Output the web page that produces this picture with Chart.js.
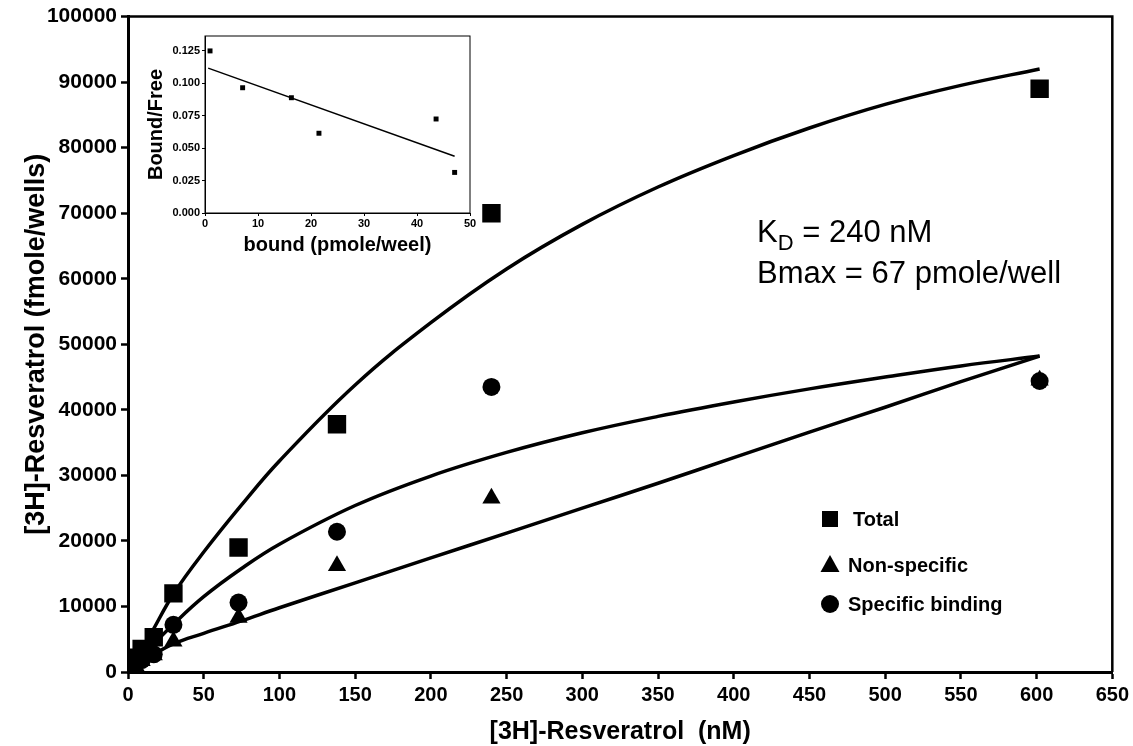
<!DOCTYPE html>
<html>
<head>
<meta charset="utf-8">
<script src="https://cdn.jsdelivr.net/npm/chart.js@4.4.0/dist/chart.umd.min.js"></script>
<style>
    body { margin: 0; background: #fff; }
    #wrap { position: relative; width: 1133px; height: 746px; }
    #mainChart { position: absolute; left: 0; top: 0; }
    #insetChart { position: absolute; left: 130px; top: 20px; }
</style>
</head>
<body>
<div id="wrap">
    <canvas id="mainChart" width="1133" height="746"></canvas>
    <canvas id="insetChart" width="350" height="245"></canvas>
</div>
<script>
// saturation binding points
const concentrations = [0.5, 1, 2.5, 5, 9, 17, 30, 73, 138, 240, 602];
const totalBinding = [300, 600, 1200, 2200, 3500, 5300, 12000, 19000, 37800, 70000, 89000];
const nonSpecific = [100, 200, 500, 900, 1700, 2600, 4700, 8300, 16200, 26500, 44500];
const specificBinding = [200, 400, 700, 1300, 1800, 2700, 7200, 10600, 21400, 43500, 44400];

// fitted curves
const fitX = [0, 15, 30, 50, 75, 100, 150, 200, 250, 300, 350, 400, 450, 500, 550, 602];
const totalFit = [0, 5800, 11900, 18300, 25500, 32200, 43800, 53300, 61500, 68300, 74000, 78800, 83000, 86600, 89500, 92000];
const specificFit = [0, 3800, 7300, 11500, 15800, 19500, 25400, 29900, 33500, 36500, 39000, 41200, 43200, 45000, 46700, 48200];
const nonSpecificFit = [0, 2400, 4300, 5900, 7800, 9800, 13600, 17400, 21200, 25000, 28800, 32700, 36600, 40400, 44300, 48200];

// Scatchard inset
const boundValues = [0.95, 7.1, 16.3, 21.5, 43.6, 47.1];
const boundFree = [0.125, 0.0966, 0.0889, 0.0615, 0.0725, 0.0313];
const scatchardX = [0.6, 47.1];
const scatchardY = [0.1117, 0.0438];

const legendLabels = ["Total", "Non-specific", "Specific binding"];
const annotationLines = ["240 nM", "Bmax = 67 pmole/well"];

const FONT = '"Liberation Sans", Arial, sans-serif';

function pairs(xs, ys) {
    return xs.map((x, i) => ({ x: x, y: ys[i] }));
}

function fitDataset(ys) {
    return {
        data: pairs(fitX, ys),
        showLine: true,
        borderColor: "#000",
        borderWidth: 3.5,
        pointRadius: 0,
        tension: 0.4,
        fill: false
    };
}

function pointDataset(label, ys, style, radius) {
    return {
        label: label,
        data: pairs(concentrations, ys),
        showLine: false,
        pointStyle: style,
        pointRadius: radius,
        pointHoverRadius: radius,
        backgroundColor: "#000",
        borderColor: "#000",
        borderWidth: 0
    };
}

// draws the frame, the K_D text and the legend inside the plot
const figureExtras = {
    id: "figureExtras",
    afterDraw(chart) {
        const ctx = chart.ctx;
        const a = chart.chartArea;
        ctx.save();
        ctx.strokeStyle = "#000";
        ctx.lineWidth = 2.5;
        ctx.beginPath();
        ctx.moveTo(a.left, a.top);
        ctx.lineTo(a.right, a.top);
        ctx.lineTo(a.right, a.bottom);
        ctx.stroke();

        ctx.fillStyle = "#000";
        ctx.textBaseline = "alphabetic";
        ctx.font = "31px " + FONT;
        ctx.fillText("K", 757, 242);
        let x = 757 + ctx.measureText("K").width;
        ctx.font = "22px " + FONT;
        ctx.fillText("D", x, 250);
        x += ctx.measureText("D").width;
        ctx.font = "31px " + FONT;
        ctx.fillText(" = " + annotationLines[0], x, 242);
        ctx.fillText(annotationLines[1], 757, 283);

        // legend
        const styles = ["rect", "triangle", "circle"];
        const rows = [519, 565, 604];
        ctx.font = "bold 20px " + FONT;
        legendLabels.forEach((label, i) => {
            const cy = rows[i];
            const cx = 830;
            ctx.beginPath();
            if (styles[i] === "rect") {
                ctx.rect(cx - 8, cy - 8, 16, 16);
            } else if (styles[i] === "triangle") {
                ctx.moveTo(cx, cy - 10);
                ctx.lineTo(cx + 9.5, cy + 7);
                ctx.lineTo(cx - 9.5, cy + 7);
                ctx.closePath();
            } else {
                ctx.arc(cx, cy, 9, 0, Math.PI * 2);
            }
            ctx.fill();
            ctx.textBaseline = "middle";
            ctx.fillText(label, i === 0 ? 853 : 848, cy + 1);
        });
        ctx.restore();
    }
};

new Chart(document.getElementById("mainChart").getContext("2d"), {
    type: "scatter",
    data: {
        datasets: [
            fitDataset(totalFit),
            fitDataset(specificFit),
            fitDataset(nonSpecificFit),
            pointDataset("Total", totalBinding, "rect", 13),
            pointDataset("Non-specific", nonSpecific, "triangle", 10.5),
            pointDataset("Specific binding", specificBinding, "circle", 9)
        ]
    },
    options: {
        responsive: false,
        animation: false,
        layout: { padding: { left: 0, top: 16, right: 20, bottom: 0 } },
        plugins: {
            legend: { display: false },
            tooltip: { enabled: false }
        },
        scales: {
            x: {
                type: "linear",
                min: 0,
                max: 650,
                afterFit: s => { s.height = 74; },
                ticks: {
                    stepSize: 50,
                    color: "#000",
                    padding: 4,
                    maxRotation: 0,
                    font: { family: FONT, size: 20, weight: "bold" }
                },
                grid: { drawOnChartArea: false, tickLength: 7, tickWidth: 2.5, tickColor: "#000" },
                border: { color: "#000", width: 3 },
                title: {
                    display: true,
                    text: "[3H]-Resveratrol  (nM)",
                    color: "#000",
                    padding: { top: 0, bottom: 0 },
                    font: { family: FONT, size: 25, weight: "bold", lineHeight: 1.1 }
                }
            },
            y: {
                min: 0,
                max: 100000,
                afterFit: s => { s.width = 128; },
                ticks: {
                    stepSize: 10000,
                    color: "#000",
                    padding: 4,
                    font: { family: FONT, size: 21, weight: "bold" },
                    callback: v => String(v)
                },
                grid: { drawOnChartArea: false, tickLength: 7, tickWidth: 2.5, tickColor: "#000" },
                border: { color: "#000", width: 3 },
                title: {
                    display: true,
                    text: "[3H]-Resveratrol (fmole/wells)",
                    color: "#000",
                    padding: { top: 20, bottom: 0 },
                    font: { family: FONT, size: 27, weight: "bold" }
                }
            }
        }
    },
    plugins: [figureExtras]
});

// thin frame round the inset plot
const insetFrame = {
    id: "insetFrame",
    afterDraw(chart) {
        const ctx = chart.ctx;
        const a = chart.chartArea;
        ctx.save();
        ctx.strokeStyle = "#000";
        ctx.lineWidth = 1;
        ctx.strokeRect(a.left, a.top, a.right - a.left, a.bottom - a.top);
        ctx.restore();
    }
};

new Chart(document.getElementById("insetChart").getContext("2d"), {
    type: "scatter",
    data: {
        datasets: [
            {
                data: pairs(scatchardX, scatchardY),
                showLine: true,
                borderColor: "#000",
                borderWidth: 1.5,
                pointRadius: 0
            },
            {
                data: pairs(boundValues, boundFree),
                pointStyle: "rect",
                pointRadius: 3.5,
                backgroundColor: "#000",
                borderWidth: 0
            }
        ]
    },
    options: {
        responsive: false,
        animation: false,
        layout: { padding: { left: 0, top: 16, right: 10, bottom: 0 } },
        plugins: {
            legend: { display: false },
            tooltip: { enabled: false }
        },
        scales: {
            x: {
                type: "linear",
                min: 0,
                max: 50,
                afterFit: s => { s.height = 52; },
                ticks: {
                    stepSize: 10,
                    color: "#000",
                    padding: 1,
                    maxRotation: 0,
                    font: { family: FONT, size: 11, weight: "bold" }
                },
                grid: { drawOnChartArea: false, tickLength: 3, tickWidth: 1, tickColor: "#000" },
                border: { color: "#000", width: 1 },
                title: {
                    display: true,
                    text: "bound (pmole/weel)",
                    color: "#000",
                    padding: { top: 0, bottom: 8 },
                    font: { family: FONT, size: 20, weight: "bold" }
                }
            },
            y: {
                min: 0,
                max: 0.1365,
                afterFit: s => { s.width = 75; },
                ticks: {
                    stepSize: 0.025,
                    includeBounds: false,
                    color: "#000",
                    padding: 2,
                    font: { family: FONT, size: 11, weight: "bold" },
                    callback: v => v.toFixed(3)
                },
                grid: { drawOnChartArea: false, tickLength: 3, tickWidth: 1, tickColor: "#000" },
                border: { color: "#000", width: 1 },
                title: {
                    display: true,
                    text: "Bound/Free",
                    color: "#000",
                    padding: { top: 14, bottom: 0 },
                    font: { family: FONT, size: 20, weight: "bold" }
                }
            }
        }
    },
    plugins: [insetFrame]
});
</script>
</body>
</html>
